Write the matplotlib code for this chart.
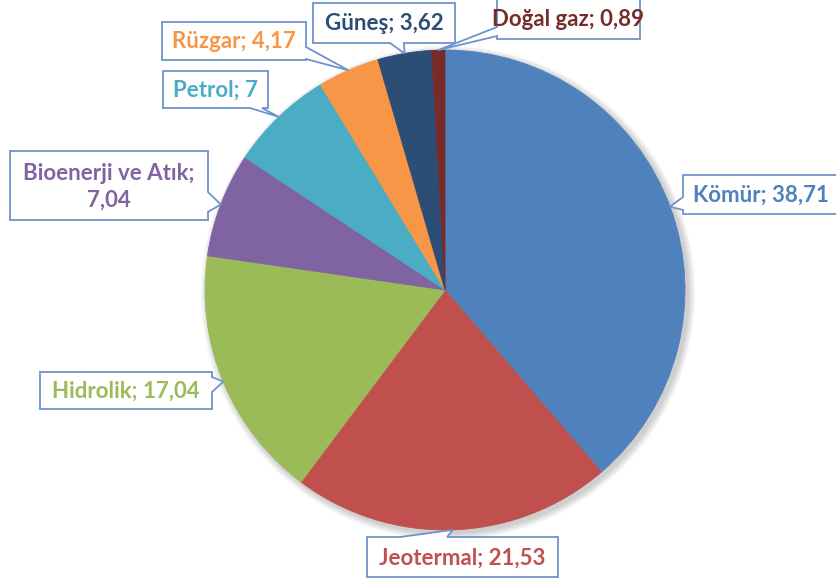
import numpy as np
import matplotlib
matplotlib.use("Agg")
import matplotlib.pyplot as plt
from matplotlib.patches import Polygon, Circle

plt.rcParams['font.family'] = ['Lato', 'DejaVu Sans']

# ---- data ----
categories = ["Kömür", "Jeotermal", "Hidrolik", "Bioenerji ve Atık", "Petrol",
              "Rüzgar", "Güneş", "Doğal gaz"]
values = [38.71, 21.53, 17.04, 7.04, 7.0, 4.17, 3.62, 0.89]
colors = ["#4F81BD", "#C0504D", "#9BBB59", "#8064A2", "#4BACC6",
          "#F79646", "#2C4D75", "#772C2A"]
text_colors = ["#4F81BD", "#C0504D", "#9BBB59", "#8064A2", "#4BACC6",
               "#F79646", "#2C4D75", "#772C2A"]

# ---- layout (pixel space, y down) ----
W, H = 837, 580
CX, CY, R = 445, 290, 240
# box: x0, y0, x1, y1, side of pointer, base start, base end
boxes = [
    (683, 175, 850, 214, "left", 197, 210),
    (367, 537, 558, 577, "top", 400, 447),
    (40, 372, 212, 409, "right", 377, 392),
    (10, 151, 208, 220, "right", 192, 212),
    (163, 71, 268, 108, "bottom", 250, 262),
    (162, 22, 306, 60, "right", 47, 59),
    (313, 3, 455, 43, "bottom", 390, 404),
    (497, -1, 640, 39, "left", 27, 36),
]

fig = plt.figure(figsize=(W / 100, H / 100), dpi=100)
ax = fig.add_axes([0, 0, 1, 1])
ax.set_xlim(0, W)
ax.set_ylim(0, H)
ax.set_aspect("equal")
ax.axis("off")

# soft shadow
for k in range(8):
    ax.add_patch(Circle((CX + 3, H - CY - 3), R + 1 + k * 0.9,
                        facecolor="black", alpha=0.025, lw=0, zorder=1))

wedges, _ = ax.pie(values, colors=colors, startangle=90, counterclock=False,
                   center=(CX, H - CY), radius=R,
                   wedgeprops=dict(linewidth=0.6, zorder=2))
for w, c in zip(wedges, colors):
    w.set_edgecolor(c)
    w.set_zorder(2)
ax.set_xlim(0, W)
ax.set_ylim(0, H)


def fmt(v):
    return ("%g" % v).replace(".", ",")


def callout(box, tip):
    x0, y0, x1, y1, side, b0, b1 = box
    tx, ty = tip
    pts = [(x0, y0)]
    if side == "top":
        pts += [(b0, y0), (tx, ty), (b1, y0)]
    pts += [(x1, y0)]
    if side == "right":
        pts += [(x1, b0), (tx, ty), (x1, b1)]
    pts += [(x1, y1)]
    if side == "bottom":
        pts += [(b1, y1), (tx, ty), (b0, y1)]
    pts += [(x0, y1)]
    if side == "left":
        pts += [(x0, b1), (tx, ty), (x0, b0)]
    pts = [(px, H - py) for px, py in pts]
    ax.add_patch(Polygon(pts, closed=True, facecolor="white",
                         edgecolor="#6D94CC", linewidth=1.3, zorder=5,
                         joinstyle="miter"))


for w, cat, v, tc, box in zip(wedges, categories, values, text_colors, boxes):
    ang = np.deg2rad((w.theta1 + w.theta2) / 2)
    cx, cy = w.center
    tip = (cx + w.r * np.cos(ang), H - (cy + w.r * np.sin(ang)))
    callout(box, tip)
    x0, y0, x1, y1 = box[:4]
    if cat == "Bioenerji ve Atık":
        label = "Bioenerji ve Atık;\n" + fmt(v)
    else:
        label = f"{cat}; {fmt(v)}"
    xc = (x0 + x1) / 2 if cat != "Kömür" else 761
    ax.text(xc, H - (y0 + y1) / 2 - 1, label, color=tc, fontsize=16,
            fontweight="bold", ha="center", va="center", zorder=6,
            linespacing=1.35)

fig.savefig("out.png", dpi=100, facecolor="white")
